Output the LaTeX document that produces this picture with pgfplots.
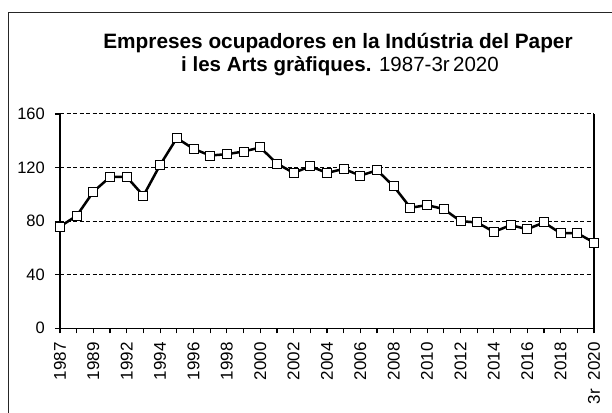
\documentclass[border=0pt]{standalone}
\usepackage{pgfplots}
\pgfplotsset{compat=1.18}
\usepackage{fontspec}
\setmainfont{Liberation Sans}
\newcommand\ytfont{\fontsize{16.5}{16.5}\selectfont}
\newcommand\xtfont{\fontsize{17}{17}\selectfont}
\newcommand\xl[1]{{\xtfont #1}}
\begin{document}
\begin{tikzpicture}
\useasboundingbox (0pt,0pt) rectangle (612pt,412pt);
\clip (0pt,0pt) rectangle (612pt,412pt);
\fill[white] (0pt,0pt) rectangle (612pt,412pt);
\draw[line width=1pt, black!85] (8pt,-10pt) -- (8pt,399pt) -- (620pt,399pt);
\node[anchor=base, font=\fontsize{20.8}{24}\selectfont\bfseries] at (338pt,363pt) {Empreses ocupadores en la Indústria del Paper};
\node[anchor=base, font=\fontsize{20.5}{24}\selectfont] at (340pt,340pt) {\textbf{i les Arts gràfiques.} 1987-3r\,2020};
\begin{axis}[
 at={(60pt,83.7pt)}, anchor=south west,
 scale only axis, width=534pt, height=214.3pt,
 xmin=0, xmax=32, ymin=0, ymax=160,
 axis x line*=bottom, axis y line*=box,
 ytick pos=left,
 ytick={0,40,...,160},
 yticklabel={\ytfont\pgfmathprintnumber{\tick}},
 xtick={0,...,32},
 xticklabels={\xl{1987},,\xl{1989},,\xl{1992},,\xl{1994},,\xl{1996},,\xl{1998},,\xl{2000},,\xl{2002},,\xl{2004},,\xl{2006},,\xl{2008},,\xl{2010},,\xl{2012},,\xl{2014},,\xl{2016},,\xl{2018},,\xl{3r\hspace{9pt}2020}},
 tick align=outside,
 major tick length=5pt,
 tick style={black, line width=1.2pt},
 axis line style={black, line width=1.5pt},
 ymajorgrids,
 grid style={black, line width=1pt, dash pattern=on 4pt off 2.5pt},
 /pgf/number format/assume math mode=true,
 every y tick label/.append style={inner sep=0pt, xshift=-10pt},
 every x tick label/.append style={inner sep=0pt, yshift=-9pt, rotate=90, anchor=east},
 clip=false,
]
\addplot[black, line width=2.5pt, mark=square*, mark size=4.5pt,
  mark options={fill=white, draw=black, line width=1pt, solid}]
 coordinates {
 (0,76) (1,84) (2,102) (3,113) (4,113) (5,99) (6,122) (7,142) (8,134)
 (9,129) (10,130) (11,132) (12,135) (13,123) (14,116) (15,121) (16,116)
 (17,119) (18,114) (19,118) (20,106) (21,90) (22,92) (23,89) (24,80)
 (25,79) (26,72) (27,77) (28,74) (29,79) (30,71) (31,71) (32,64)
 };
\end{axis}
\end{tikzpicture}
\end{document}
